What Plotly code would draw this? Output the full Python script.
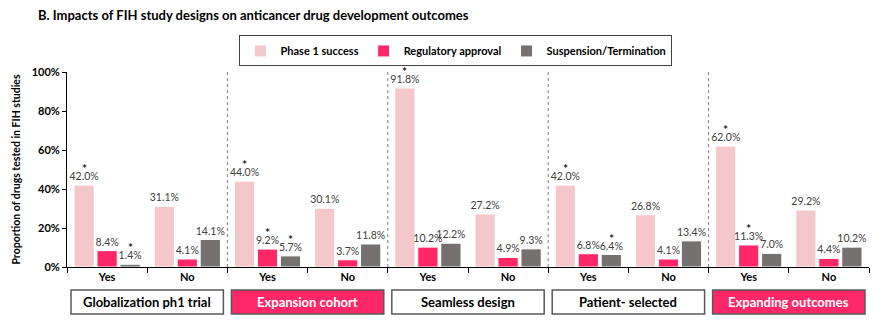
import plotly.graph_objects as go

# ---- data -------------------------------------------------------------
groups = ["Globalization ph1 trial", "Expansion cohort", "Seamless design",
          "Patient- selected", "Expanding outcomes"]
group_highlight = [False, True, False, False, True]
answers = ["Yes", "No"]

phase1_success = [42.0, 31.1, 44.0, 30.1, 91.8, 27.2, 42.0, 26.8, 62.0, 29.2]
regulatory_approval = [8.4, 4.1, 9.2, 3.7, 10.2, 4.9, 6.8, 4.1, 11.3, 4.4]
suspension_termination = [1.4, 14.1, 5.7, 11.8, 12.2, 9.3, 6.4, 13.4, 7.0, 10.2]

# statistically significant differences (marked with *)
phase1_sig = [True, False, True, False, True, False, True, False, True, False]
regulatory_sig = [False, False, True, False, False, False, False, False, True, False]
suspension_sig = [True, False, True, False, False, False, True, False, False, False]

y_ticks = [0, 20, 40, 60, 80, 100]

# ---- styling ----------------------------------------------------------
FONT = "Lato"
PINK = "#F4C7CB"
RED = "#FE2768"
GREY = "#767171"
LABEL = "#404040"
BAR_GAP = 0.14
BAR_GROUP_GAP = 0.12

series = [
    ("Phase 1 success", phase1_success, phase1_sig, PINK),
    ("Regulatory approval", regulatory_approval, regulatory_sig, RED),
    ("Suspension/Termination", suspension_termination, suspension_sig, GREY),
]

cat_ids = [f"{g}|{a}" for g in groups for a in answers]
tick_text = [a for g in groups for a in answers]

fig = go.Figure()
for name, vals, _, color in series:
    fig.add_trace(go.Bar(
        x=cat_ids, y=vals, name=name,
        marker=dict(color=color, line=dict(color="white", width=1)),
        text=[f"{v:.1f}%" for v in vals],
        textposition="outside",
        textfont=dict(family=FONT, size=10.5, color=LABEL),
        constraintext="none",
        cliponaxis=False,
    ))

# asterisks above significant bars
slot = (1 - BAR_GAP) / len(series)
annotations = []
for k, (_, vals, sig, _) in enumerate(series):
    for i, (v, s) in enumerate(zip(vals, sig)):
        if s:
            annotations.append(dict(
                x=i + (k - (len(series) - 1) / 2) * slot, y=v,
                xref="x", yref="y", text="*", showarrow=False,
                yanchor="bottom", yshift=7,
                font=dict(family=FONT, size=12, color="#222", weight=700),
            ))

shapes = []
n = len(answers)
for g, (gname, hl) in enumerate(zip(groups, group_highlight)):
    if g > 0:
        shapes.append(dict(
            type="line", xref="x", yref="y",
            x0=g * n - 0.5, x1=g * n - 0.5, y0=0, y1=100,
            line=dict(color="#808080", width=1, dash="dot"),
        ))
    shapes.append(dict(
        type="rect", xref="x", yref="paper",
        x0=g * n - 0.5 + 0.05, x1=(g + 1) * n - 0.5 - 0.05,
        y0=-0.241, y1=-0.118,
        fillcolor=RED if hl else "white",
        line=dict(color="#595959", width=1.5),
        layer="above",
    ))
    annotations.append(dict(
        x=g * n + (n - 1) / 2, y=-0.18, xref="x", yref="paper",
        text=gname, showarrow=False, yanchor="middle",
        font=dict(family=FONT, size=13, weight=700,
                  color="white" if hl else "black"),
    ))

fig.update_layout(
    width=887, height=323,
    margin=dict(l=67, r=18, t=72, b=56),
    paper_bgcolor="white", plot_bgcolor="white",
    barmode="group", bargap=BAR_GAP, bargroupgap=BAR_GROUP_GAP,
    font=dict(family=FONT, color="black"),
    title=dict(
        text="B. Impacts of FIH study designs on anticancer drug development outcomes",
        x=38 / 887, xanchor="left", xref="container",
        y=1 - 15 / 323, yanchor="middle", yref="container",
        font=dict(family=FONT, size=13, weight=700, color="black"),
    ),
    legend=dict(
        orientation="h", x=0.485, xanchor="center", y=1.108, yanchor="middle",
        bordercolor="#404040", borderwidth=1, itemwidth=30,
        font=dict(family=FONT, size=11, weight=700, color="black"),
        traceorder="normal",
    ),
    xaxis=dict(
        type="category", categoryorder="array", categoryarray=cat_ids,
        tickmode="array", tickvals=cat_ids, ticktext=tick_text,
        tickson="boundaries", ticks="outside", ticklen=5, tickcolor="black",
        showline=True, linecolor="black", linewidth=1,
        tickfont=dict(family=FONT, size=11, weight=700, color="black"),
        showgrid=False,
    ),
    yaxis=dict(
        range=[0, 100], tickmode="array", tickvals=y_ticks,
        ticktext=[f"{t}%" for t in y_ticks],
        ticks="outside", ticklen=4, tickcolor="black",
        showline=True, linecolor="black", linewidth=1, showgrid=False,
        zeroline=False,
        tickfont=dict(family=FONT, size=11, weight=700, color="black"),
        title=dict(text="Proportion of drugs tested in FIH studies",
                   font=dict(family=FONT, size=10.5, weight=700, color="black"),
                   standoff=8),
    ),
    shapes=shapes,
    annotations=annotations,
)

fig.write_html("out.html")
